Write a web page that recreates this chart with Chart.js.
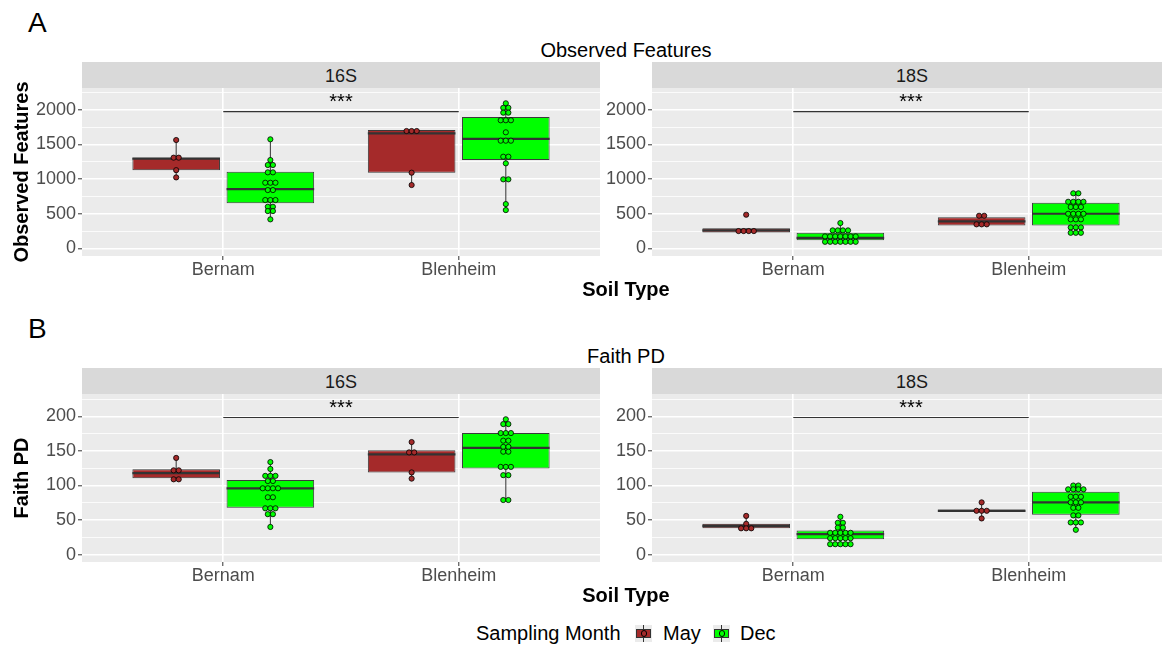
<!DOCTYPE html>
<html>
<head>
<meta charset="utf-8">
<script src="https://cdn.jsdelivr.net/npm/chart.js@4.4.1/dist/chart.umd.min.js"></script>
<style>
  html, body { margin: 0; padding: 0; background: #fff; }
  body { width: 1162px; height: 646px; position: relative; overflow: hidden; font-family: 'Liberation Sans', Arial, sans-serif; }
  .t { position: absolute; line-height: 1; white-space: nowrap; color: #000; }
  .c { text-align: center; width: 400px; }
  .strip { position: absolute; height: 26px; background: #D9D9D9; color: #1A1A1A; font-size: 18px; line-height: 29px; text-align: center; }
  canvas { position: absolute; }
  .key { position: absolute; width: 17px; height: 17px; background: #EBEBEB; }
  .key .w { position: absolute; left: 8px; top: 0; width: 1px; height: 17px; background: #333; }
  .key .b { position: absolute; left: 1px; top: 4px; width: 13px; height: 7px; border: 1px solid #333; }
  .key .d { position: absolute; left: 5.5px; top: 5.5px; width: 4.5px; height: 4.5px; border: 0.8px solid #000; border-radius: 50%; }
</style>
</head>
<body>
  <div class="t" style="left:28px;top:9.3px;font-size:28px">A</div>
  <div class="t c" style="left:426px;top:40.1px;font-size:20px">Observed Features</div>
  <div class="strip" style="left:82px;top:62px;width:518px">16S</div>
  <div class="strip" style="left:652px;top:62px;width:520px">18S</div>
  <canvas id="a16" width="600" height="226" style="left:0;top:60px"></canvas>
  <canvas id="a18" width="570" height="226" style="left:600px;top:60px"></canvas>
  <div class="t c" style="left:426px;top:279.1px;font-size:20px;font-weight:bold">Soil Type</div>

  <div class="t" style="left:28px;top:315.3px;font-size:28px">B</div>
  <div class="t c" style="left:426px;top:346.1px;font-size:20px">Faith PD</div>
  <div class="strip" style="left:82px;top:368px;width:518px">16S</div>
  <div class="strip" style="left:652px;top:368px;width:520px">18S</div>
  <canvas id="b16" width="600" height="226" style="left:0;top:366px"></canvas>
  <canvas id="b18" width="570" height="226" style="left:600px;top:366px"></canvas>
  <div class="t c" style="left:426px;top:585.4px;font-size:20px;font-weight:bold">Soil Type</div>

  <div id="legend"></div>

<script>
// --- DATA ---
const soils = ['Bernam', 'Blenheim'];
const months = ['May', 'Dec'];
const monthColors = ['#A52A2A', '#00FF00'];

// dot values per soil [Bernam, Blenheim]; equal values sit in one dotplot row
const obs16May = [[1565, 1310, 1310, 1130, 1025], [1695, 1695, 1695, 1093, 915]];
const obs16Dec = [
  [1575, 1276, 1204, 1204, 1098, 1098, 948, 948, 948, 842, 842, 698, 698, 698, 601, 601, 539, 539, 419],
  [2095, 2030, 2030, 1960, 1960, 1850, 1850, 1850, 1676, 1555, 1555, 1555, 1324, 1324, 1228, 997, 997, 640, 553]
];
const obs18May = [[486, 250, 250, 250, 250], [471, 471, 347, 347, 347]];
const obs18Dec = [
  [366, 260, 260, 260, 260, 173, 173, 173, 173, 173, 173, 173, 95, 95, 95, 95, 95, 95, 95],
  [795, 795, 673, 673, 673, 673, 597, 597, 597, 500, 500, 500, 500, 419, 419, 419, 303, 303, 303, 225, 225, 225]
];
const faith16May = [[140, 122, 122, 109, 109], [163, 148, 148, 119, 110]];
const faith16Dec = [
  [134, 124, 114, 114, 114, 106.5, 106.5, 96, 96, 96, 96, 83, 83, 67, 67, 67, 58.5, 58.5, 40],
  [196, 189, 189, 176, 176, 176, 165, 165, 156, 156, 149, 149, 127, 127, 127, 115, 115, 79, 79]
];
const faith18May = [[56, 44.5, 38, 38, 38], [75.6, 63.4, 63.4, 63.4, 52.3]];
const faith18Dec = [
  [54.7, 46, 46, 39, 39, 31.5, 31.5, 31.5, 31.5, 31.5, 23.7, 23.7, 23.7, 23.7, 23.7, 15, 15, 15, 15, 15],
  [100, 100, 94.5, 94.5, 94.5, 94.5, 83.7, 83.7, 83.7, 75.6, 75.6, 75.6, 67.7, 67.7, 56.7, 56.7, 46.5, 46.5, 46.5, 35.8]
];

// box stats per soil: [lower whisker, q1, median, q3, upper whisker]
const obs16MayBox = [[1025, 1130, 1295, 1310, 1565], [915, 1093, 1662, 1710, 1710]];
const obs16DecBox = [[419, 650, 857, 1107, 1575], [553, 1276, 1580, 1897, 2095]];
const obs18MayBox = [[231, 231, 260, 289, 289], [332, 332, 390, 448, 471]];
const obs18DecBox = [[95, 116, 153, 225, 366], [225, 332, 500, 659, 795]];
const faith16MayBox = [[109, 110.5, 118, 123.5, 140], [110, 119, 145, 151, 163]];
const faith16DecBox = [[40, 67.8, 96, 108, 134], [79, 124.5, 154.5, 176, 196]];
const faith18MayBox = [[38, 38, 41.5, 44.5, 56], [52.3, 61.5, 63.4, 65.4, 75.6]];
const faith18DecBox = [[15, 22, 29.5, 35, 54.7], [35.8, 57.6, 75.6, 91, 100]];

// axes
const obsRange = [-110, 2316];
const obsTicks = [0, 250, 500, 750, 1000, 1250, 1500, 1750, 2000, 2250];
const obsMajor = 500;
const faithRange = [-10.8, 232.6];
const faithTicks = [0, 25, 50, 75, 100, 125, 150, 175, 200, 225];
const faithMajor = 50;

// significance brackets (Bernam vs Blenheim)
const obsSig = 1975;
const faithSig = 198.5;
const sigLabel = '***';

// --- CHARTS ---
Chart.defaults.font.family = "'Liberation Sans', Arial, sans-serif";
const dodge = 0.2;       // half dodge width, x units
const dotStep = 0.0217;  // dot spacing within a dotplot row, x units

function dotPositions(groups, shift) {
  const out = [];
  groups.forEach((vals, si) => {
    const counts = {}, seen = {};
    vals.forEach(v => { counts[v] = (counts[v] || 0) + 1; });
    vals.forEach(v => {
      const k = seen[v] = (seen[v] || 0) + 1;
      out.push({ x: si + 1 + shift + (k - 1 - (counts[v] - 1) / 2) * dotStep, y: v });
    });
  });
  return out;
}

const boxPlugin = {
  id: 'boxes',
  beforeDraw(chart) {
    const { ctx, chartArea: a } = chart;
    ctx.save();
    ctx.fillStyle = '#EBEBEB';
    ctx.fillRect(a.left, a.top, a.width, a.height);
    ctx.restore();
  },
  beforeDatasetsDraw(chart) {
    const ctx = chart.ctx, y = chart.scales.y;
    ctx.save();
    ctx.strokeStyle = '#333333';
    ctx.lineWidth = 1;
    chart.data.datasets.forEach((ds, di) => {
      if (ds.type !== 'bar') return;
      chart.getDatasetMeta(di).data.forEach((el, i) => {
        const s = ds.stats[i];
        ctx.beginPath();
        ctx.moveTo(el.x, y.getPixelForValue(s[0]));
        ctx.lineTo(el.x, y.getPixelForValue(s[4]));
        ctx.stroke();
      });
    });
    ctx.restore();
  },
  afterDatasetDraw(chart, args) {
    const ds = chart.data.datasets[args.index];
    if (ds.type !== 'bar') return;
    const ctx = chart.ctx, y = chart.scales.y;
    ctx.save();
    ctx.strokeStyle = '#333333';
    ctx.lineWidth = 2.2;
    args.meta.data.forEach((el, i) => {
      const py = y.getPixelForValue(ds.stats[i][2]);
      ctx.beginPath();
      ctx.moveTo(el.x - el.width / 2, py);
      ctx.lineTo(el.x + el.width / 2, py);
      ctx.stroke();
    });
    ctx.restore();
  },
  afterDraw(chart, args, opts) {
    const ctx = chart.ctx, x = chart.scales.x, y = chart.scales.y;
    const py = y.getPixelForValue(opts.sig);
    const x1 = x.getPixelForValue(1), x2 = x.getPixelForValue(2);
    ctx.save();
    ctx.strokeStyle = '#333333';
    ctx.lineWidth = 1.1;
    ctx.beginPath();
    ctx.moveTo(x1, py);
    ctx.lineTo(x2, py);
    ctx.stroke();
    ctx.fillStyle = '#000';
    ctx.font = "20px 'Liberation Sans', Arial, sans-serif";
    ctx.textAlign = 'center';
    ctx.textBaseline = 'alphabetic';
    ctx.fillText(opts.label, (x1 + x2) / 2, py - 4);
    ctx.restore();
  }
};

function makePanel(id, mayPts, decPts, mayBox, decBox, range, ticks, major, sig, yTitle, axisWidth) {
  const boxes = [mayBox, decBox];
  const pts = [mayPts, decPts];
  const datasets = [];
  months.forEach((m, mi) => {
    datasets.push({
      type: 'scatter',
      label: m + ' dots',
      data: dotPositions(pts[mi], mi === 0 ? -dodge : dodge),
      backgroundColor: monthColors[mi],
      borderColor: '#000000',
      borderWidth: 0.8,
      pointRadius: 2.6,
      hoverRadius: 0,
      order: 1
    });
  });
  months.forEach((m, mi) => {
    datasets.push({
      type: 'bar',
      label: m,
      data: soils.map((s, si) => ({ x: si + 1, y: [boxes[mi][si][1], boxes[mi][si][3]] })),
      stats: boxes[mi],
      backgroundColor: monthColors[mi],
      borderColor: '#3A3A3A',
      borderWidth: 1,
      borderSkipped: false,
      categoryPercentage: 0.8,
      barPercentage: 0.93,
      order: 2
    });
  });

  const isMajor = c => c.tick && c.tick.value % major === 0;

  return new Chart(document.getElementById(id), {
    type: 'bar',
    data: { datasets },
    plugins: [boxPlugin],
    options: {
      responsive: false,
      animation: false,
      events: [],
      devicePixelRatio: 1,
      layout: { padding: { top: 28, left: 0, right: 0, bottom: 0 }, autoPadding: false },
      plugins: {
        legend: { display: false },
        tooltip: { enabled: false },
        boxes: { sig, label: sigLabel }
      },
      scales: {
        x: {
          type: 'linear', min: 0.4, max: 2.6, bounds: 'data', offset: false,
          afterBuildTicks: s => { s.ticks = soils.map((_, i) => ({ value: i + 1 })); },
          afterFit: s => { s.height = 30; s.paddingLeft = 0; s.paddingRight = 0; },
          border: { display: false },
          grid: { offset: false, color: '#FFFFFF', lineWidth: 1.6, tickLength: 4, tickWidth: 1, tickColor: '#333333' },
          ticks: { autoSkip: false, maxRotation: 0, padding: -1, color: '#4D4D4D', font: { size: 18 },
                   callback: v => soils[v - 1] }
        },
        y: {
          min: range[0], max: range[1], bounds: 'data',
          afterBuildTicks: s => { s.ticks = ticks.map(v => ({ value: v })); },
          afterFit: s => { s.width = axisWidth; s.paddingTop = 0; s.paddingBottom = 0; },
          border: { display: false },
          grid: {
            color: '#FFFFFF',
            lineWidth: c => isMajor(c) ? 1.6 : 0.8,
            tickLength: 4, tickWidth: 1,
            tickColor: c => isMajor(c) ? '#333333' : 'rgba(0,0,0,0)'
          },
          ticks: { autoSkip: false, padding: 2, color: '#4D4D4D', font: { size: 18 },
                   callback: v => v % major === 0 ? String(v) : '' },
          title: { display: !!yTitle, text: yTitle, color: '#000000',
                   font: { size: 20, weight: 'bold' }, padding: { top: 10, bottom: 0 } }
        }
      }
    }
  });
}

makePanel('a16', obs16May, obs16Dec, obs16MayBox, obs16DecBox, obsRange, obsTicks, obsMajor, obsSig, 'Observed Features', 82);
makePanel('a18', obs18May, obs18Dec, obs18MayBox, obs18DecBox, obsRange, obsTicks, obsMajor, obsSig, '', 52);
makePanel('b16', faith16May, faith16Dec, faith16MayBox, faith16DecBox, faithRange, faithTicks, faithMajor, faithSig, 'Faith PD', 82);
makePanel('b18', faith18May, faith18Dec, faith18MayBox, faith18DecBox, faithRange, faithTicks, faithMajor, faithSig, '', 52);

// --- LEGEND ---
const legend = document.getElementById('legend');
const keyLeft = [635, 713];
const textLeft = [663, 740];
legend.innerHTML = '<div class="t" style="left:476px;top:623.1px;font-size:20px">Sampling Month</div>' +
  months.map((m, i) =>
    `<div class="key" style="left:${keyLeft[i]}px;top:624.5px">` +
      `<div class="w"></div><div class="b" style="background:${monthColors[i]}"></div>` +
      `<div class="d" style="background:${monthColors[i]}"></div></div>` +
    `<div class="t" style="left:${textLeft[i]}px;top:623.1px;font-size:20px">${m}</div>`
  ).join('');
</script>
</body>
</html>
